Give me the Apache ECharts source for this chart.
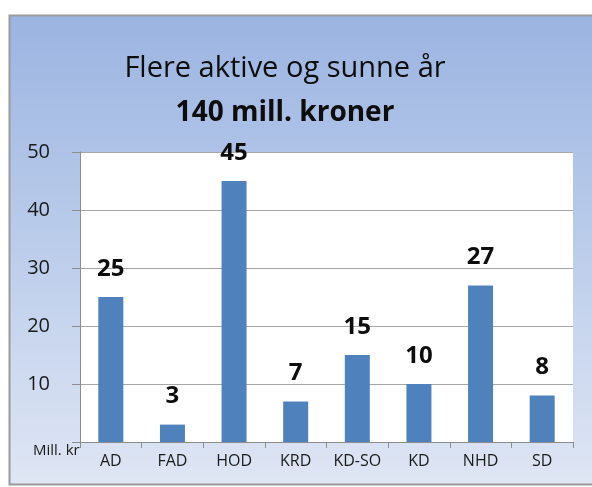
<!DOCTYPE html>
<html>
<head>
<meta charset="utf-8">
<script src="https://cdn.jsdelivr.net/npm/echarts@6/dist/echarts.min.js"></script>
<style>
html,body{margin:0;padding:0;background:#fff;}
#chart{width:592px;height:487px;}
</style>
</head>
<body>
<div id="chart"></div>
<script>
var categories = ['AD', 'FAD', 'HOD', 'KRD', 'KD-SO', 'KD', 'NHD', 'SD'];
var values = [25, 3, 45, 7, 15, 10, 27, 8];
var titleLine1 = 'Flere aktive og sunne år';
var titleLine2 = '140 mill. kroner';
var unitLabel = 'Mill. kr';
var yMin = 0, yMax = 50, yInterval = 10;

var font = '"Open Sans", "Noto Sans", sans-serif';
var chart = echarts.init(document.getElementById('chart'));
chart.setOption({
  backgroundColor: '#ffffff',
  animation: false,
  graphic: [
    {
      type: 'rect', z: -10, silent: true,
      shape: { x: 9.5, y: 15.5, width: 600, height: 469 },
      style: {
        fill: new echarts.graphic.LinearGradient(0, 0, 0, 1, [
          { offset: 0, color: '#9bb4e1' },
          { offset: 0.5, color: '#bccdeb' },
          { offset: 1, color: '#dfe6f4' }
        ]),
        stroke: '#9a9a9a', lineWidth: 2
      }
    },
    {
      type: 'text', left: 33, top: 443, silent: true,
      style: { text: unitLabel, font: '15px ' + font, fill: '#1a1a1a' }
    }
  ],
  title: {
    text: titleLine1 + '\n{b|' + titleLine2 + '}',
    left: 280, top: 41, textAlign: 'center',
    textStyle: {
      fontFamily: font, fontSize: 29, fontWeight: 'normal', color: '#0d0d0d',
      lineHeight: 45,
      rich: { b: { fontFamily: font, fontSize: 28, fontWeight: 'bold', color: '#0d0d0d', lineHeight: 45 } }
    }
  },
  grid: {
    left: 80, right: 19, top: 152, bottom: 45,
    show: true, backgroundColor: '#ffffff', borderWidth: 0
  },
  xAxis: {
    type: 'category', data: categories,
    axisLine: { lineStyle: { color: '#8c8c8c', width: 1 } },
    axisTick: { show: true, length: 6, lineStyle: { color: '#8c8c8c' } },
    axisLabel: { interval: 0, color: '#1a1a1a', fontFamily: font, fontSize: 16, margin: 11 }
  },
  yAxis: {
    type: 'value', min: yMin, max: yMax, interval: yInterval,
    axisLine: { show: true, lineStyle: { color: '#8c8c8c', width: 1 } },
    axisTick: { show: true, length: 8, lineStyle: { color: '#8c8c8c' } },
    splitLine: { lineStyle: { color: '#a6a6a6', width: 1 } },
    axisLabel: {
      color: '#1a1a1a', fontFamily: font, fontSize: 20, margin: 30,
      formatter: function (v) { return v === 0 ? '' : String(v); }
    }
  },
  series: [{
    type: 'bar', data: values, barWidth: 25,
    itemStyle: { color: '#4f81bd' },
    label: {
      show: true, position: 'top', distance: 16,
      fontFamily: font, fontSize: 24, fontWeight: 'bold', color: '#0d0d0d'
    }
  }]
});
</script>
</body>
</html>
